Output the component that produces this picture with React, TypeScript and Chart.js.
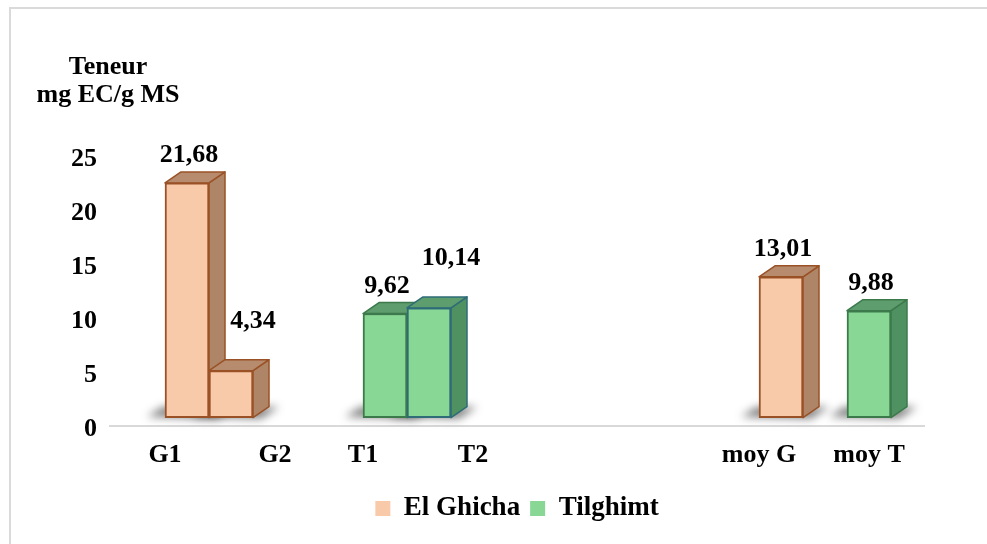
import { useEffect, useRef } from 'react';
import { Chart, registerables } from 'chart.js';

Chart.register(...registerables);

const categories = ['G1', 'G2', 'T1', 'T2', 'moy G', 'moy T'];
const teneur = [21.68, 4.34, 9.62, 10.14, 13.01, 9.88];
const station = ['El Ghicha', 'El Ghicha', 'Tilghimt', 'Tilghimt', 'El Ghicha', 'Tilghimt'];
const stations = ['El Ghicha', 'Tilghimt'];
const yTicks = [0, 5, 10, 15, 20, 25];
const yTitle = ['Teneur', 'mg EC/g MS'];

// Both x axes share a grid of narrow slots (half a column wide);
// the columns and their category names sit on their own slots.
const SLOT_COUNT = 37;
const columnSlot = [3, 5, 12, 14, 30, 34];
const nameSlot = [2, 7, 11, 16, 29, 34];

const SERIF = "'Liberation Serif', 'Times New Roman', serif";
const DEPTH_X = 16;
const DEPTH_Y = 11;

type Look = { front: string; side: string; top: string; edge: string };
const looks: Record<string, Look> = {
  'El Ghicha': { front: '#F8CAA9', side: '#AF8568', top: '#B78C6E', edge: '#9A5126' },
  Tilghimt: { front: '#88D795', side: '#4F9161', top: '#5E9D6D', edge: '#3C7A4C' },
};
const T2_EDGE = '#2F6C78';

const edgeOf = (i: number) => (categories[i] === 'T2' ? T2_EDGE : looks[station[i]].edge);

const slotLabels = (slots: number[]) =>
  Array.from({ length: SLOT_COUNT }, (_, s) => {
    const k = slots.indexOf(s);
    return k < 0 ? '' : categories[k];
  });

const datasets = stations.map((name) => {
  const idx = categories.map((_, i) => i).filter((i) => station[i] === name);
  return {
    label: name,
    data: idx.map((i) => ({ x: categories[i], y: teneur[i] })),
    backgroundColor: looks[name].front,
    borderColor: idx.map(edgeOf),
    borderWidth: 2,
    borderSkipped: false as const,
    barThickness: 44,
    grouped: false,
    xAxisID: 'x',
    yAxisID: 'y',
  };
});

type BarInfo = { x: number; y: number; base: number; width: number; i: number };

const collectBars = (chart: Chart): BarInfo[] => {
  const out: BarInfo[] = [];
  chart.data.datasets.forEach((ds: any, d: number) => {
    chart.getDatasetMeta(d).data.forEach((el: any, j: number) => {
      const p = el.getProps(['x', 'y', 'base', 'width'], true);
      out.push({ ...p, i: categories.indexOf(ds.data[j].x) });
    });
  });
  return out.sort((a, b) => a.x - b.x);
};

// Frame around the figure and the unit caption above the value axis
const decor = {
  id: 'decor',
  beforeDraw(chart: Chart) {
    const { ctx } = chart;
    ctx.save();
    ctx.strokeStyle = '#DADADA';
    ctx.lineWidth = 2;
    ctx.beginPath();
    ctx.moveTo(10, chart.height);
    ctx.lineTo(10, 8);
    ctx.lineTo(chart.width, 8);
    ctx.stroke();
    ctx.fillStyle = '#000';
    ctx.font = `bold 26px ${SERIF}`;
    ctx.textAlign = 'center';
    ctx.textBaseline = 'alphabetic';
    yTitle.forEach((line, k) => ctx.fillText(line, 108, 74 + k * 28));
    ctx.restore();
  },
};

// Floor shadow, right-hand side and top faces give each column its depth
const prism = {
  id: 'prism',
  beforeDatasetsDraw(chart: Chart) {
    const { ctx } = chart;
    const bars = collectBars(chart);
    ctx.save();
    ctx.filter = 'blur(4px)';
    ctx.fillStyle = 'rgba(45,45,45,0.6)';
    bars.forEach(({ x, base, width }) => {
      const l = x - width / 2;
      const r = x + width / 2;
      ctx.beginPath();
      ctx.moveTo(l - 18, base - 1);
      ctx.lineTo(l - 2, base - DEPTH_Y);
      ctx.lineTo(r + DEPTH_X + 10, base - DEPTH_Y);
      ctx.lineTo(r + 8, base + 1);
      ctx.closePath();
      ctx.fill();
    });
    ctx.restore();

    ctx.save();
    ctx.lineJoin = 'round';
    ctx.lineWidth = 1.5;
    bars.forEach(({ x, y, base, width, i }) => {
      const look = looks[station[i]];
      const l = x - width / 2;
      const r = x + width / 2;
      ctx.strokeStyle = edgeOf(i);
      ctx.fillStyle = look.side;
      ctx.beginPath();
      ctx.moveTo(r, y);
      ctx.lineTo(r + DEPTH_X, y - DEPTH_Y);
      ctx.lineTo(r + DEPTH_X, base - DEPTH_Y);
      ctx.lineTo(r, base);
      ctx.closePath();
      ctx.fill();
      ctx.stroke();
      ctx.fillStyle = look.top;
      ctx.beginPath();
      ctx.moveTo(l, y);
      ctx.lineTo(l + DEPTH_X, y - DEPTH_Y);
      ctx.lineTo(r + DEPTH_X, y - DEPTH_Y);
      ctx.lineTo(r, y);
      ctx.closePath();
      ctx.fill();
      ctx.stroke();
    });
    ctx.restore();
  },
  afterDatasetsDraw(chart: Chart) {
    const { ctx } = chart;
    const bars = collectBars(chart);
    ctx.save();
    ctx.fillStyle = '#000';
    ctx.font = `bold 26px ${SERIF}`;
    ctx.textAlign = 'center';
    ctx.textBaseline = 'alphabetic';
    bars.forEach((b, k) => {
      const prev = bars[k - 1];
      // a column leaning on a taller neighbour gets its label moved aside
      const beside = prev && b.x - prev.x <= b.width + 1;
      const lx = b.x + DEPTH_X / 2 - 6 + (beside ? 20 : 0);
      const ly = b.y - DEPTH_Y - 10 - (beside ? 22 : 0);
      ctx.fillText(teneur[b.i].toFixed(2).replace('.', ','), lx, ly);
    });
    ctx.restore();
  },
};

const tickFont = { family: SERIF, size: 26, weight: 'bold' as const };

export default function App() {
  const ref = useRef<HTMLCanvasElement>(null);

  useEffect(() => {
    const chart = new Chart(ref.current!, {
      type: 'bar',
      data: { datasets: datasets as any },
      options: {
        responsive: false,
        animation: false,
        devicePixelRatio: 1,
        layout: { padding: { left: 58, right: 63, top: 147, bottom: 12 } },
        scales: {
          x: {
            type: 'category',
            labels: slotLabels(columnSlot),
            offset: true,
            display: false,
          },
          xt: {
            type: 'category',
            position: 'bottom',
            labels: slotLabels(nameSlot),
            offset: true,
            grid: { display: false, drawTicks: false },
            border: { display: true, color: '#D9D9D9', width: 2 },
            ticks: {
              autoSkip: false,
              maxRotation: 0,
              minRotation: 0,
              font: tickFont,
              color: '#000',
              padding: 14,
            },
          },
          y: {
            type: 'linear',
            min: -0.75,
            max: 25,
            grid: { display: false, drawTicks: false },
            border: { display: false },
            afterBuildTicks: (scale: any) => {
              scale.ticks = yTicks.map((value) => ({ value }));
            },
            ticks: { font: tickFont, color: '#000', padding: 13, labelOffset: 12 },
          },
        },
        plugins: {
          tooltip: { enabled: false },
          legend: {
            position: 'bottom',
            fullSize: false,
            labels: {
              boxWidth: 15,
              boxHeight: 15,
              padding: 10,
              color: '#000',
              font: { family: SERIF, size: 27, weight: 'bold' },
              generateLabels: (c: Chart) =>
                Chart.defaults.plugins.legend.labels.generateLabels(c).map((item: any) => ({
                  ...item,
                  lineWidth: 0,
                  strokeStyle: 'rgba(0,0,0,0)',
                })),
            },
          },
        },
      },
      plugins: [decor, prism],
    });
    return () => chart.destroy();
  }, []);

  return (
    <canvas
      ref={ref}
      width={987}
      height={544}
      style={{ position: 'fixed', left: 0, top: 0, display: 'block', background: '#fff' }}
    />
  );
}
